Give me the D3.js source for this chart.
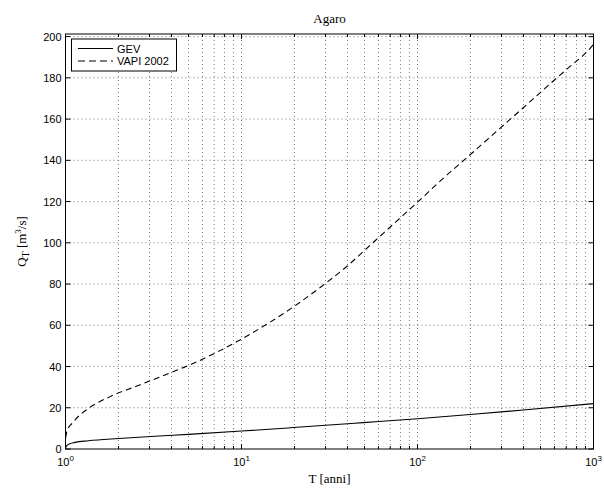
<!DOCTYPE html>
<html>
<head>
<meta charset="utf-8">
<script src="https://cdn.jsdelivr.net/npm/d3@7"></script>
<style>
  body { margin: 0; background: #fff; }
  svg { display: block; }
</style>
</head>
<body>
<div id="chart"></div>
<script>
// ---- data ----
const title = "Agaro";
const seriesNames = ["GEV", "VAPI 2002"];
const gevT = [1.002, 1.02, 1.05, 1.13, 1.35, 2.0, 3.22, 5, 10, 19.7, 49, 100, 199, 399, 1000];
const gevQ = [0.8, 1.7, 2.4, 3.2, 4.0, 5.1, 6.2, 7.1, 8.7, 10.4, 12.8, 14.7, 16.7, 18.9, 22.0];
const vapiT = [1.002, 1.02, 1.1, 1.2, 1.35, 1.79, 2.54, 3.67, 5, 7.07, 10, 13.3, 19.7, 29.8, 39.6, 50.3, 63.9, 83, 100, 134, 199, 294, 399, 519, 705, 955, 1000];
const vapiQ = [5.5, 8.8, 12.8, 16.3, 19.7, 25.4, 30.5, 35.9, 40.5, 46.5, 53.3, 59.5, 68.9, 80.1, 88.5, 96.5, 104.6, 113.4, 119.7, 129.8, 142.7, 155.5, 165.5, 174.2, 184.2, 194.2, 196.2];
const yTicks = [0, 20, 40, 60, 80, 100, 120, 140, 160, 180, 200];
const xMajor = [1, 10, 100, 1000];
const xLabelExp = ["0", "1", "2", "3"];

// ---- layout ----
const W = 604, H = 492;
const L = 65.5, R = 593.5, T = 34, B = 449;

const svg = d3.select("#chart").append("svg").attr("width", W).attr("height", H);

const x = d3.scaleLog().domain([1, 1000]).range([L, R]);
const y = d3.scaleLinear().domain([0, 200]).range([B, 36.6]);

// minor tick values
const xMinor = [];
[1, 10, 100].forEach(d => { for (let k = 2; k <= 9; k++) xMinor.push(d * k); });

// ---- grid ----
const grid = svg.append("g").attr("stroke", "#555").attr("stroke-width", 0.8)
  .attr("stroke-dasharray", "1,3").attr("fill", "none");
grid.selectAll("line.gx").data(xMinor.concat([10, 100])).enter().append("line")
  .attr("x1", d => x(d)).attr("x2", d => x(d)).attr("y1", B).attr("y2", T);
grid.selectAll("line.gy").data(yTicks.filter(d => d > 0)).enter().append("line")
  .attr("class", "gy")
  .attr("x1", L).attr("x2", R).attr("y1", d => y(d)).attr("y2", d => y(d));

// ---- ticks (inward, both sides) ----
const ticks = svg.append("g").attr("stroke", "#000").attr("stroke-width", 1);
yTicks.forEach(v => {
  ticks.append("line").attr("x1", L).attr("x2", L + 5).attr("y1", y(v)).attr("y2", y(v));
  ticks.append("line").attr("x1", R).attr("x2", R - 5).attr("y1", y(v)).attr("y2", y(v));
});
xMajor.forEach(v => {
  ticks.append("line").attr("x1", x(v)).attr("x2", x(v)).attr("y1", B).attr("y2", B - 5);
  ticks.append("line").attr("x1", x(v)).attr("x2", x(v)).attr("y1", T).attr("y2", T + 5);
});
xMinor.forEach(v => {
  ticks.append("line").attr("x1", x(v)).attr("x2", x(v)).attr("y1", B).attr("y2", B - 3);
  ticks.append("line").attr("x1", x(v)).attr("x2", x(v)).attr("y1", T).attr("y2", T + 3);
});

// ---- curves ----
const line = d3.line().x(d => x(d[0])).y(d => y(d[1])).curve(d3.curveMonotoneX);
const gevData = gevT.map((t, i) => [t, gevQ[i]]);
const vapiData = vapiT.map((t, i) => [t, vapiQ[i]]);
svg.append("clipPath").attr("id", "clip").append("rect")
  .attr("x", L).attr("y", T).attr("width", R - L).attr("height", B - T);
const curves = svg.append("g").attr("clip-path", "url(#clip)");
curves.append("path").datum(gevData).attr("d", line)
  .attr("fill", "none").attr("stroke", "#000").attr("stroke-width", 1.1);
curves.append("path").datum(vapiData).attr("d", line)
  .attr("fill", "none").attr("stroke", "#000").attr("stroke-width", 1.1)
  .attr("stroke-dasharray", "6,4");

// ---- frame ----
svg.append("rect").attr("x", L).attr("y", T).attr("width", R - L).attr("height", B - T)
  .attr("fill", "none").attr("stroke", "#000").attr("stroke-width", 1);

// ---- tick labels ----
const sans = "Liberation Sans, Arial, Helvetica, sans-serif";
const serif = "Liberation Serif, Times New Roman, Times, serif";
svg.append("g").selectAll("text").data(yTicks).enter().append("text")
  .attr("x", L - 4).attr("y", d => y(d) + 4)
  .attr("text-anchor", "end").attr("font-family", sans).attr("font-size", 11)
  .text(d => d);

xMajor.forEach((v, i) => {
  const t = svg.append("text").attr("x", x(v)).attr("y", 466)
    .attr("text-anchor", "middle").attr("font-family", sans).attr("font-size", 11);
  t.append("tspan").text("10");
  t.append("tspan").attr("font-size", 8).attr("dy", -5).text(xLabelExp[i]);
});

// ---- titles ----
svg.append("text").attr("x", (L + R) / 2).attr("y", 23).attr("text-anchor", "middle")
  .attr("font-family", serif).attr("font-size", 13).text(title);
svg.append("text").attr("x", (L + R) / 2).attr("y", 483).attr("text-anchor", "middle")
  .attr("font-family", serif).attr("font-size", 13).text("T [anni]");
const yl = svg.append("text").attr("transform", `translate(26,${(T + B) / 2}) rotate(-90)`)
  .attr("text-anchor", "middle").attr("font-family", serif).attr("font-size", 13);
yl.append("tspan").text("Q");
yl.append("tspan").attr("font-size", 10).attr("dy", 3).text("T");
yl.append("tspan").attr("dy", -3).text(" [m");
yl.append("tspan").attr("font-size", 9).attr("dy", -5).text("3");
yl.append("tspan").attr("dy", 5).text("/s]");

// ---- legend ----
const lg = svg.append("g");
lg.append("rect").attr("x", 71.5).attr("y", 39).attr("width", 105).attr("height", 32)
  .attr("fill", "#fff").attr("stroke", "#000").attr("stroke-width", 1);
const rows = [48.5, 61];
seriesNames.forEach((name, i) => {
  lg.append("line").attr("x1", 78).attr("x2", 113).attr("y1", rows[i]).attr("y2", rows[i])
    .attr("stroke", "#000").attr("stroke-width", 1.1)
    .attr("stroke-dasharray", i === 1 ? "7,4" : null);
  lg.append("text").attr("x", 117).attr("y", rows[i] + 4)
    .attr("font-family", sans).attr("font-size", 11).text(name);
});
</script>
</body>
</html>
